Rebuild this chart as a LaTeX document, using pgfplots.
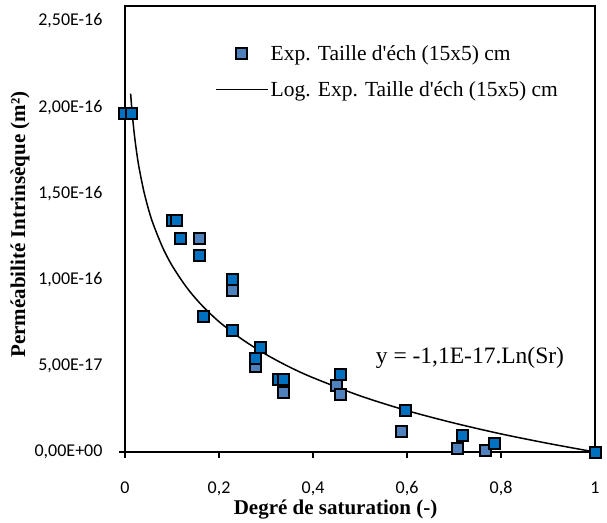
\documentclass[border=0pt]{standalone}
\usepackage{fontspec}
\setmainfont{Liberation Serif}
\newfontfamily\calib{Carlito}
\usepackage{pgfplots}
\pgfplotsset{compat=1.18}
\definecolor{ptdark}{RGB}{0,112,192}
\definecolor{ptlight}{RGB}{79,129,189}
\pgfplotsset{
  sqlegend/.style={legend image code/.code={\path[draw=none] (0pt,-1pt) rectangle (52pt,1pt);
    \path[draw=none] plot[mark=square*, mark size=5.5pt, mark options={fill=ptlight, draw=black, line width=2pt}] coordinates {(26pt,0pt)};}},
  linelegend/.style={legend image code/.code={\draw[##1] (0pt,0pt) -- (52pt,0pt);}},
}

\begin{document}
\begin{tikzpicture}
\begin{axis}[
  scale only axis, width=470pt, height=446pt,
  xmin=0, xmax=1, ymin=0, ymax=2.587e-16,
  clip=false,
  axis line style={line width=1.8pt},
  xtick={0,0.2,0.4,0.6,0.8,1},
  xticklabels={0,{0,2},{0,4},{0,6},{0,8},1},
  ytick={0,0.5e-16,1e-16,1.5e-16,2e-16,2.5e-16},
  yticklabels={{0,00E+00},{5,00E-17},{1,00E-16},{1,50E-16},{2,00E-16},{2,50E-16}},
  scaled y ticks=false,
  tick pos=left, tick align=outside, major tick length=6pt,
  xtick style={line width=1.8pt, black},
  ytick style={draw=none},
  extra y ticks={0}, extra y tick labels={},
  extra y tick style={ytick style={draw=black, line width=1.8pt}},
  ticklabel style={font=\calib\fontsize{18}{21}\selectfont},
  xticklabel style={yshift=-20pt},
  yticklabel style={xshift=-13pt},
  xlabel={Degré de saturation (-)},
  ylabel={Perméabilité Intrinsèque (m²)},
  every axis x label/.style={at={(axis description cs:0.448,-0.130)}, anchor=center,
    font=\bfseries\fontsize{21}{24}\selectfont},
  every axis y label/.style={at={(axis description cs:-0.223,0.51)}, rotate=90, anchor=center,
    font=\bfseries\fontsize{21}{24}\selectfont},
  legend cell align=left,
  legend style={draw=none, fill=none, at={(axis description cs:0.1915,0.853)}, anchor=west,
    font=\fontsize{21.5}{24}\selectfont, row sep=15pt, inner xsep=0pt},
]

% squares with the lighter fill
\addplot[only marks, mark=square*, mark size=5.5pt,
  mark options={fill=ptlight, draw=black, line width=2pt}, sqlegend]
coordinates {
  (0.159,1.24e-16) (0.229,0.934e-16) (0.278,0.497e-16) (0.338,0.344e-16)
  (0.449,0.387e-16) (0.458,0.333e-16) (0.588,0.12e-16) (0.708,0.02e-16) (0.766,0.01e-16)
};
\addlegendentry{Exp. Taille d\textquotesingle éch (15x5) cm}

% squares with the darker fill
\addplot[only marks, mark=square*, mark size=5.5pt,
  mark options={fill=ptdark, draw=black, line width=2pt}, forget plot]
coordinates {
  (0,1.966e-16) (0.014,1.966e-16) (0.102,1.34e-16) (0.110,1.34e-16) (0.118,1.241e-16)
  (0.159,1.137e-16) (0.229,1.003e-16) (0.168,0.785e-16) (0.229,0.702e-16)
  (0.289,0.609e-16) (0.278,0.541e-16) (0.326,0.418e-16) (0.338,0.418e-16)
  (0.458,0.447e-16) (0.597,0.242e-16) (0.718,0.093e-16) (0.786,0.05e-16) (1,0)
};

% logarithmic trend line
\addplot[black, line width=1.5pt, smooth, no marks, linelegend]
coordinates {
  (0.012,2.079e-16) (0.015,1.974e-16) (0.02,1.839e-16) (0.025,1.734e-16)
  (0.03,1.648e-16) (0.04,1.513e-16) (0.05,1.408e-16) (0.06,1.322e-16)
  (0.08,1.187e-16) (0.1,1.082e-16) (0.13,0.959e-16) (0.16,0.861e-16)
  (0.2,0.756e-16) (0.25,0.652e-16) (0.3,0.566e-16) (0.35,0.493e-16)
  (0.4,0.431e-16) (0.5,0.326e-16) (0.6,0.240e-16) (0.7,0.168e-16)
  (0.8,0.105e-16) (0.9,0.050e-16) (1,0)
};
\addlegendentry{Log. Exp. Taille d\textquotesingle éch (15x5) cm}

\node[font=\fontsize{23.5}{26}\selectfont] at (axis description cs:0.734,0.211) {y = -1,1E-17.Ln(Sr)};
\end{axis}
\pgfresetboundingbox
\path[use as bounding box] (-125pt,-70pt) rectangle (482pt,452pt);
\end{tikzpicture}
\end{document}
